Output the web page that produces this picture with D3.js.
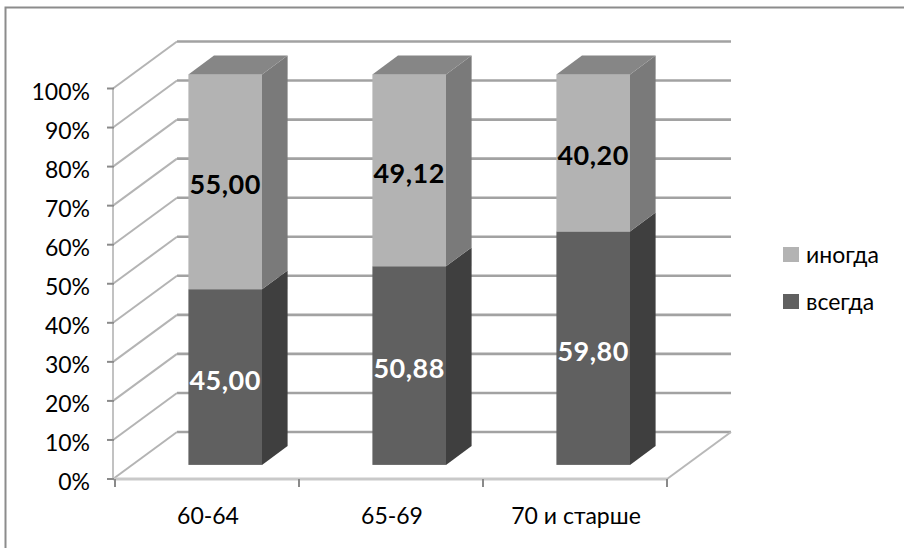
<!DOCTYPE html>
<html>
<head>
<meta charset="utf-8">
<script src="https://cdn.jsdelivr.net/npm/d3@7"></script>
<style>
  html, body { margin: 0; padding: 0; background: #fff; }
  svg { display: block; }
  text { font-family: Lato, "Open Sans", sans-serif; }
</style>
</head>
<body>
<svg id="chart" width="904" height="548"></svg>
<script>
// Age groups and the share of each answer (100% stacked)
const categories = ["60-64", "65-69", "70 и старше"];
const seriesNames = ["всегда", "иногда"];
const always = [45.00, 50.88, 59.80];
const sometimes = [55.00, 49.12, 40.20];
const yTicks = [0, 10, 20, 30, 40, 50, 60, 70, 80, 90, 100];

const svg = d3.select("#chart");

// Outer chart-area frame
svg.append("rect")
  .attr("x", 5.5).attr("y", 7.5)
  .attr("width", 1000).attr("height", 1000)
  .attr("fill", "none").attr("stroke", "#8c8c8c").attr("stroke-width", 2);

// Front plane of the 3-D box and the depth offset of its back wall
const x = d3.scaleBand().domain(categories).range([114, 666])
  .paddingInner(0.6).paddingOuter(0.3);
const y = d3.scaleLinear().domain([0, 100]).range([479, 88.5]);
const DX = 64, DY = -47;
const barFront = 0.3, barBack = 0.7;

const g = svg.append("g");

// Back wall gridlines
g.selectAll("line.back").data(yTicks).join("line")
  .attr("class", "back")
  .attr("x1", 113 + DX).attr("x2", 667 + DX)
  .attr("y1", d => y(d) + DY).attr("y2", d => y(d) + DY)
  .attr("stroke", "#a2a2a2").attr("stroke-width", 2.6);

// Side wall gridlines running in depth
g.selectAll("line.side").data(yTicks).join("line")
  .attr("class", "side")
  .attr("x1", 113).attr("y1", d => y(d))
  .attr("x2", 113 + DX).attr("y2", d => y(d) + DY)
  .attr("stroke", "#b4b4b4").attr("stroke-width", 2);

// Floor outline
g.append("line")
  .attr("x1", 667).attr("y1", y(0))
  .attr("x2", 667 + DX).attr("y2", y(0) + DY)
  .attr("stroke", "#b8b8b8").attr("stroke-width", 2);
g.append("line")
  .attr("x1", 113).attr("x2", 667)
  .attr("y1", y(0)).attr("y2", y(0))
  .attr("stroke", "#c9c9c9").attr("stroke-width", 3);

// Vertical axis line and ticks
g.append("line")
  .attr("x1", 113).attr("x2", 113)
  .attr("y1", y(100)).attr("y2", y(0))
  .attr("stroke", "#c2c2c2").attr("stroke-width", 2);
g.selectAll("line.ytick").data(yTicks).join("line")
  .attr("class", "ytick")
  .attr("x1", 107).attr("x2", 114)
  .attr("y1", d => y(d)).attr("y2", d => y(d))
  .attr("stroke", "#8a8a8a").attr("stroke-width", 2);

g.selectAll("text.ylab").data(yTicks).join("text")
  .attr("class", "ylab")
  .attr("x", 90).attr("y", d => y(d) + 2)
  .attr("text-anchor", "end").attr("dominant-baseline", "central")
  .attr("font-size", 23).attr("fill", "#000")
  .text(d => d + "%");

// Category axis ticks at band boundaries
const xTickPos = [115, 299, 483, 667];
g.selectAll("line.xtick").data(xTickPos).join("line")
  .attr("class", "xtick")
  .attr("x1", d => d).attr("x2", d => d)
  .attr("y1", y(0)).attr("y2", y(0) + 8)
  .attr("stroke", "#8a8a8a").attr("stroke-width", 2);

g.selectAll("text.xlab").data(categories).join("text")
  .attr("class", "xlab")
  .attr("x", d => x(d) + x.bandwidth() / 2 + 2)
  .attr("y", 515)
  .attr("text-anchor", "middle").attr("dominant-baseline", "central")
  .attr("font-size", 23).attr("fill", "#000")
  .text(d => d);

// Stacked 3-D columns
const rows = categories.map((c, i) => ({ cat: c, "всегда": always[i], "иногда": sometimes[i] }));
const stack = d3.stack().keys(seriesNames)(rows);

const colors = {
  "всегда": { front: "#606060", side: "#3f3f3f", top: "#505050", label: "#ffffff" },
  "иногда": { front: "#b3b3b3", side: "#7a7a7a", top: "#868686", label: "#000000" }
};

const fx0 = barFront * DX, fy0 = barFront * DY;
const fx1 = barBack * DX, fy1 = barBack * DY;

categories.forEach((c, i) => {
  const bx = x(c), bw = x.bandwidth();
  const bar = g.append("g");
  stack.forEach((layer, li) => {
    const [v0, v1] = layer[i];
    const col = colors[layer.key];
    const xl = bx + fx0, xr = bx + bw + fx0;
    const yt = y(v1) + fy0, yb = y(v0) + fy0;
    // side face
    bar.append("polygon")
      .attr("points", [
        [xr, yt], [bx + bw + fx1, y(v1) + fy1],
        [bx + bw + fx1, y(v0) + fy1], [xr, yb]
      ].map(p => p.join(",")).join(" "))
      .attr("fill", col.side);
    // front face
    bar.append("rect")
      .attr("x", xl).attr("y", yt)
      .attr("width", bw).attr("height", yb - yt)
      .attr("fill", col.front);
    // top face on the highest segment
    if (li === stack.length - 1) {
      bar.append("polygon")
        .attr("points", [
          [xl, yt], [bx + fx1, y(v1) + fy1],
          [bx + bw + fx1, y(v1) + fy1], [xr, yt]
        ].map(p => p.join(",")).join(" "))
        .attr("fill", col.top);
    }
  });
  // value labels
  stack.forEach(layer => {
    const [v0, v1] = layer[i];
    const val = v1 - v0;
    bar.append("text")
      .attr("x", bx + bw / 2 + fx0)
      .attr("y", y((v0 + v1) / 2) + fy0 + 2)
      .attr("text-anchor", "middle").attr("dominant-baseline", "central")
      .attr("font-size", 27).attr("font-weight", "bold")
      .attr("letter-spacing", 0.5)
      .attr("fill", colors[layer.key].label)
      .text(d3.format(".2f")(val).replace(".", ","));
  });
});

// Legend
const legendItems = ["иногда", "всегда"];
const lg = svg.append("g").attr("transform", "translate(783,247)");
legendItems.forEach((k, i) => {
  const row = lg.append("g").attr("transform", `translate(0,${i * 47})`);
  row.append("rect").attr("width", 16).attr("height", 15).attr("fill", colors[k].front);
  row.append("text")
    .attr("x", 23).attr("y", 7)
    .attr("dominant-baseline", "central")
    .attr("font-size", 23).attr("fill", "#000")
    .text(k);
});
</script>
</body>
</html>
